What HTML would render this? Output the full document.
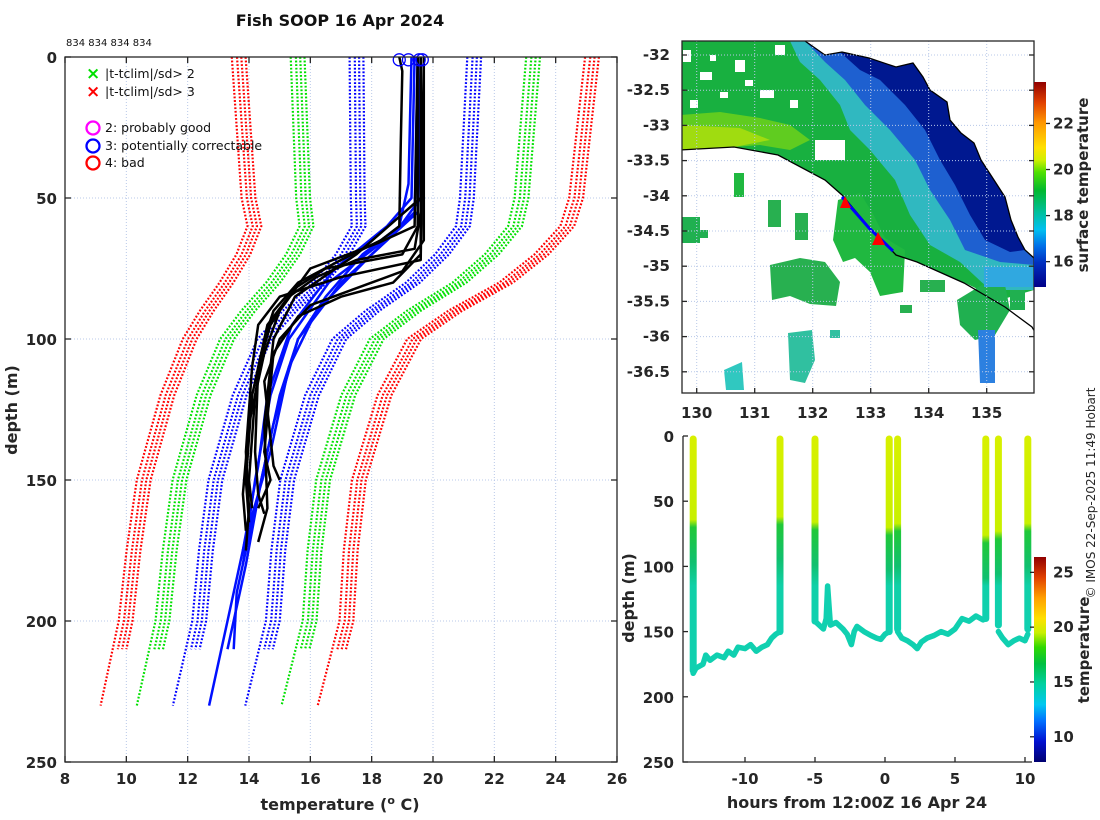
<!DOCTYPE html>
<html><head><meta charset="utf-8">
<style>
html,body{margin:0;padding:0;background:#fff;}
svg{display:block;font-family:"DejaVu Sans","Liberation Sans",sans-serif;}
.tk{font-size:15px;font-weight:bold;fill:#262626;}
.ax{stroke:#262626;stroke-width:1.3;fill:none;}
.gr{stroke:#b8c8e8;stroke-width:1;stroke-dasharray:1 2;}
</style></head>
<body>
<svg id="fig" width="1100" height="820" viewBox="0 0 1100 820" xmlns="http://www.w3.org/2000/svg">
<defs>
<linearGradient id="cbTop" x1="0" y1="1" x2="0" y2="0">
<stop offset="0" stop-color="#000088"/><stop offset="0.12" stop-color="#0030c0"/><stop offset="0.2" stop-color="#0070e8"/>
<stop offset="0.28" stop-color="#00c0f0"/><stop offset="0.36" stop-color="#00c0a0"/><stop offset="0.47" stop-color="#00b830"/>
<stop offset="0.56" stop-color="#50e000"/><stop offset="0.62" stop-color="#d0f000"/><stop offset="0.68" stop-color="#ffe000"/>
<stop offset="0.8" stop-color="#ff9800"/><stop offset="0.9" stop-color="#e04000"/><stop offset="1" stop-color="#900000"/>
</linearGradient>
<linearGradient id="cbBot" x1="0" y1="1" x2="0" y2="0">
<stop offset="0" stop-color="#000070"/><stop offset="0.1" stop-color="#0010d0"/><stop offset="0.2" stop-color="#0070ff"/>
<stop offset="0.28" stop-color="#00c8f0"/><stop offset="0.38" stop-color="#00d0a0"/><stop offset="0.48" stop-color="#00c040"/>
<stop offset="0.56" stop-color="#30d800"/><stop offset="0.63" stop-color="#c8f000"/><stop offset="0.7" stop-color="#ffe000"/>
<stop offset="0.8" stop-color="#ffa000"/><stop offset="0.9" stop-color="#e04000"/><stop offset="1" stop-color="#900000"/>
</linearGradient>
</defs>

<!-- ===== Left profile panel ===== -->
<text x="340" y="26" text-anchor="middle" style="font-size:16px;font-weight:bold;fill:#111">Fish SOOP 16 Apr 2024</text>
<text x="66" y="46" style="font-size:10px;fill:#111">834 834 834 834</text>
<g id="leftGrid"></g>
<g id="clim"></g>
<g id="profiles"></g>
<g id="leftAxes"></g>
<g>
 <text x="86" y="79" style="font-size:17px;font-weight:bold;fill:#00e000">×</text>
 <text x="105" y="78" style="font-size:12.5px;fill:#111">|t-tclim|/sd&gt; 2</text>
 <text x="86" y="97" style="font-size:17px;font-weight:bold;fill:#ff0000">×</text>
 <text x="105" y="96" style="font-size:12.5px;fill:#111">|t-tclim|/sd&gt; 3</text>
 <circle cx="93" cy="128" r="6.5" fill="none" stroke="#ff00ff" stroke-width="2.3"/>
 <text x="105" y="132" style="font-size:12.5px;fill:#111">2: probably good</text>
 <circle cx="93" cy="146" r="6.5" fill="none" stroke="#0000ff" stroke-width="2.3"/>
 <text x="105" y="150" style="font-size:12.5px;fill:#111">3: potentially correctable</text>
 <circle cx="93" cy="163" r="6.5" fill="none" stroke="#ff0000" stroke-width="2.3"/>
 <text x="105" y="167" style="font-size:12.5px;fill:#111">4: bad</text>
</g>
<text x="340" y="810" text-anchor="middle" style="font-size:16px;font-weight:bold;fill:#262626">temperature (<tspan baseline-shift="super" font-size="11">o</tspan> C)</text>
<text transform="translate(17,410) rotate(-90)" text-anchor="middle" style="font-size:16px;font-weight:bold;fill:#262626">depth (m)</text>

<!-- ===== Map panel ===== -->
<g>
 <clipPath id="mapClip"><rect x="682" y="41" width="352" height="352"/></clipPath>
 <g clip-path="url(#mapClip)">
  <polygon points="680,41 805,41 825,55 842,52 869,58 896,67 913,63 923,77 930,90 947,102 950,120 961,133 974,143 981,160 994,180 1005,197 1011,220 1018,237 1025,250 1034,258 1034,290 1000,300 965,283 917,262 896,255 869,227 842,195 825,180 778,155 734,147 680,150" fill="#18b040"/>
  <polygon points="680,115 720,112 760,118 790,125 810,140 790,150 760,145 734,147 680,150" fill="#60cc20"/>
  <polygon points="680,125 740,128 770,140 734,147 680,150" fill="#a0dc10"/>
  <polygon points="790,41 805,41 825,55 842,52 869,58 896,67 913,63 923,77 930,90 947,102 950,120 961,133 974,143 981,160 994,180 1005,197 1011,220 1018,237 1025,250 1034,258 1034,290 990,290 960,262 930,245 910,215 895,180 870,150 850,130 840,105 820,80 800,62" fill="#30b8c0"/>
  <polygon points="805,41 825,55 842,52 869,58 896,67 913,63 923,77 930,90 947,102 950,120 961,133 974,143 981,160 994,180 1005,197 1011,220 1018,237 1025,250 1034,258 1034,265 1000,262 965,250 950,220 930,190 915,160 890,130 865,105 845,80 825,62" fill="#1e60d0"/>
  <polygon points="840,52 869,58 896,67 913,63 923,77 930,90 947,102 950,120 961,133 974,143 981,160 994,180 1005,197 1011,220 1018,237 1025,250 1010,252 985,240 970,215 955,185 940,160 925,130 905,105 880,80 860,70" fill="#001890"/>
  <polygon points="805,41 1034,41 1034,258 1025,250 1018,237 1011,220 1005,197 994,180 981,160 974,143 961,133 950,120 947,102 930,90 923,77 913,63 896,67 869,58 842,52 825,55" fill="#ffffff"/>
  <g fill="#ffffff">
   <rect x="700" y="72" width="12" height="8"/><rect x="735" y="60" width="10" height="12"/><rect x="760" y="90" width="14" height="8"/><rect x="690" y="100" width="8" height="8"/><rect x="775" y="45" width="10" height="10"/><rect x="720" y="92" width="8" height="6"/><rect x="815" y="140" width="30" height="20"/><rect x="683" y="50" width="8" height="12"/>
   <rect x="745" y="80" width="8" height="6"/><rect x="710" y="55" width="6" height="6"/><rect x="790" y="100" width="8" height="8"/>
  </g>
  <g>
   <polygon points="838,200 860,193 872,212 885,238 905,250 903,292 880,296 870,272 855,258 843,262 833,240" fill="#20b840"/>
   <polygon points="770,265 800,258 825,262 840,282 836,306 810,304 790,296 772,300" fill="#28b050"/>
   <polygon points="957,300 985,283 1005,285 1010,310 995,335 975,340 960,325" fill="#20b050"/>
   <polygon points="978,330 995,330 995,383 980,383" fill="#2c80e0"/>
   <polygon points="788,333 812,330 815,360 805,383 790,380" fill="#30c0a0"/>
   <polygon points="724,370 742,362 744,390 726,390" fill="#30c8c0"/>
   <rect x="682" y="217" width="18" height="26" fill="#20b050"/>
   <rect x="768" y="200" width="13" height="27" fill="#28b050"/>
   <rect x="795" y="213" width="13" height="27" fill="#28b050"/>
   <rect x="734" y="173" width="10" height="24" fill="#20b840"/>
   <rect x="984" y="267" width="50" height="20" fill="#30a8e0"/>
   <rect x="1010" y="290" width="15" height="20" fill="#20b050"/>
   <rect x="920" y="280" width="25" height="12" fill="#28b050"/>
   <rect x="900" y="305" width="12" height="8" fill="#28b050"/>
   <rect x="830" y="330" width="10" height="8" fill="#30c0a0"/>
   <rect x="700" y="230" width="8" height="8" fill="#20b050"/>
  </g>
  <path d="M805,41 L825,55 L842,52 L869,58 L896,67 L913,63 L923,77 L930,90 L947,102 L950,120 L961,133 L974,143 L981,160 L994,180 L1005,197 L1011,220 L1018,237 L1025,250 L1034,258" fill="none" stroke="#000" stroke-width="1.3"/>
  <path d="M680,150 L734,147 L778,155 L825,180 L842,195 L869,227 L896,255 L917,262 L964,283 L1005,307 L1032,327 L1038,337" fill="none" stroke="#000" stroke-width="1.3"/>
  <path d="M842,197 L869,228 L893,251" fill="none" stroke="#0000ff" stroke-width="3"/>
  <polygon points="845,196 840,208 851,208" fill="#ff0000"/>
  <polygon points="878,232 872,245 885,245" fill="#ff0000"/>
 </g>
 <g id="mapAxes"></g>
</g>
<rect x="1034" y="82" width="12" height="205" fill="url(#cbTop)"/>
<g id="cbTopTicks"></g>
<text transform="translate(1088,185) rotate(-90)" text-anchor="middle" style="font-size:15px;font-weight:bold;fill:#262626">surface temperature</text>
<text transform="translate(1095,493) rotate(-90)" text-anchor="middle" style="font-size:12px;fill:#262626">© IMOS 22-Sep-2025 11:49 Hobart</text>

<!-- ===== Bottom-right panel ===== -->
<g id="section"></g>
<g id="secAxes"></g>
<rect x="1034" y="557" width="12" height="205" fill="url(#cbBot)"/>
<g id="cbBotTicks"></g>
<text transform="translate(1089,650) rotate(-90)" text-anchor="middle" style="font-size:15px;font-weight:bold;fill:#262626">temperature</text>
<text x="857" y="808" text-anchor="middle" style="font-size:16px;font-weight:bold;fill:#262626">hours from 12:00Z 16 Apr 24</text>
<text transform="translate(634,598) rotate(-90)" text-anchor="middle" style="font-size:16px;font-weight:bold;fill:#262626">depth (m)</text>
</svg>

<script>
// ---- profile panel data ----
const tempTicks = [8,10,12,14,16,18,20,22,24,26];
const depthTicks = [0,50,100,150,200,250];
const climDepth = [0,50,60,70,80,90,100,120,150,175,200,230];
const climMean  = [19.45,19.35,19.3,18.7,17.85,16.7,15.75,14.9,14.1,13.8,13.6,12.95];
const climSd    = [1.92,1.78,1.7,1.62,1.52,1.35,1.22,1.18,1.17,1.18,1.2,1.18];
const climShift = [-0.25,-0.08,0.06,0.2];
const climMaxDepth = [230,210,210,210];
const sdMultipliers = [1,2,3];
const blackDepths = [
 [0,5,30,60,65,72,80,90,100,120,150,160],
 [0,55,68,72,78,85,95,110,140,155,162],
 [0,60,70,75,82,95,120,150,165],
 [0,65,76,80,88,100,115,145,150],
 [0,50,70,85,100,130,160,172],
 [0,72,78,85,95,110,140,160,175],
 [0,60,66,75,90,105,130,155,168],
 [0,70,80,85,92,105,140,150,160]
];
const blackTemps = [
 [18.9,19.0,18.95,18.9,18.3,17.0,15.6,14.8,14.5,14.2,14.0,14.1],
 [19.6,19.6,19.4,17.5,16.2,15.3,14.7,14.3,14.2,14.3,14.5],
 [19.5,19.5,19.0,16.5,15.5,14.6,14.1,13.9,14.0],
 [19.7,19.7,19.0,18.0,16.0,15.0,14.5,14.8,15.0],
 [19.6,19.6,17.5,15.5,14.8,14.5,14.6,14.3],
 [19.7,19.6,17.0,15.0,14.3,14.1,13.9,14.0,13.9],
 [19.5,19.4,18.2,16.0,15.0,14.5,14.0,13.8,13.9],
 [19.6,19.6,18.7,17.0,15.6,14.8,14.5,14.7,14.3]
];
const blueDepths = [
 [0,45,60,70,85,100,120,150,180,210],
 [0,55,70,90,110,140,170,200,230],
 [0,55,65,80,100,130,160,190,210],
 [0,50,62,80,100,120,150,180],
 [0,50,60,75,95,120,145,175]
];
const blueTemps = [
 [19.3,19.2,18.9,17.7,16.5,15.6,15.0,14.4,13.9,13.3],
 [19.6,19.5,18.0,16.2,15.3,14.7,13.9,13.3,12.7],
 [19.5,19.4,18.5,17.0,15.6,14.8,14.2,13.6,13.5],
 [19.6,19.6,18.8,16.6,15.3,14.7,14.2,13.8],
 [19.4,19.3,18.5,16.8,15.4,14.6,14.3,13.8]
];
const flagTemps = [18.9,19.2,19.55,19.65];

// ---- map ticks ----
const lonTicks = [130,131,132,133,134,135];
const latTicks = [-32,-32.5,-33,-33.5,-34,-34.5,-35,-35.5,-36,-36.5];
const sstTicks = [16,18,20,22];

// ---- section data ----
const hourTicks = [-10,-5,0,5,10];
const secDepthTicks = [0,50,100,150,200,250];
const tempCbTicks = [10,15,20,25];
const profTimes = [-13.7,-7.5,-5.0,0.3,0.9,7.2,8.1,10.2];
const profBottom = [180,150,142,150,148,140,145,148];
const profMld = [67,65,69,73,70,79,76,70];
const trackTime = [
 [-13.7,-13.5,-13.0,-12.8,-12.5,-12.0,-11.5,-11.2,-10.8,-10.5,-10.0,-9.6,-9.2,-8.8,-8.4,-8.1,-7.8,-7.5],
 [-5.0,-4.7,-4.4,-4.2,-4.1,-3.9,-3.5,-3.0,-2.7,-2.4,-2.2,-2.0,-1.5,-1.0,-0.6,-0.3,0.0,0.3],
 [0.9,1.2,1.6,2.0,2.3,2.6,3.0,3.5,4.0,4.5,5.0,5.5,6.0,6.5,7.0,7.2],
 [8.1,8.4,8.8,9.2,9.6,10.0,10.2]
];
const trackDepth = [
 [182,178,175,168,172,168,170,165,168,162,163,160,165,162,160,155,152,150],
 [142,145,148,140,115,145,143,148,152,160,150,146,150,153,155,156,152,150],
 [150,155,157,160,163,158,155,153,150,152,148,140,142,138,141,140],
 [150,155,160,157,155,157,152]
];

const NS = "http://www.w3.org/2000/svg";
function mk(tag, attrs, parent){ const e=document.createElementNS(NS,tag); for(const k in attrs) e.setAttribute(k,attrs[k]); parent.appendChild(e); return e; }
function txt(parent,x,y,s,anchor,cls){ const t=mk('text',{x:x,y:y,'text-anchor':anchor,'class':cls||'tk'},parent); t.textContent=s; return t; }

const L={x0:65,x1:617,y0:57,y1:762};
const xT = t => L.x0 + (t-8)*(L.x1-L.x0)/18;
const yD = d => L.y0 + d*(L.y1-L.y0)/250;

const lg=document.getElementById('leftGrid');
tempTicks.forEach(t=>{ if(t>8&&t<26){ const l=mk('line',{x1:xT(t),x2:xT(t),y1:L.y0,y2:L.y1,'class':'gr'},lg);
  }});
depthTicks.forEach(d=>{ if(d>0&&d<250){ const l=mk('line',{x1:L.x0,x2:L.x1,y1:yD(d),y2:yD(d),'class':'gr'},lg);
  }});

function interp(xs,ys,x){ for(let i=0;i<xs.length-1;i++){ if(x>=xs[i]&&x<=xs[i+1]){ const f=(x-xs[i])/(xs[i+1]-xs[i]); return ys[i]+f*(ys[i+1]-ys[i]); } } return ys[ys.length-1]; }

const cg=document.getElementById('clim');
const multColor={1:'#0000ff',2:'#00e000',3:'#ff0000'};
climShift.forEach((sh,vi)=>{
  const maxD=climMaxDepth[vi];
  const ds=climDepth.filter(d=>d<maxD).concat([maxD]);
  sdMultipliers.forEach(m=>{
    [-1,1].forEach(sign=>{
      const pts=ds.map(d=>{ const mu=interp(climDepth,climMean,d)+sh; const sd=interp(climDepth,climSd,d); return xT(mu+sign*m*sd).toFixed(1)+','+yD(d).toFixed(1); });
      const p=mk('polyline',{points:pts.join(' '),fill:'none',stroke:multColor[m],'stroke-width':2.2,'stroke-dasharray':'1.8 1.8'},cg);
      
      
    });
  });
});

const pg=document.getElementById('profiles');
blueDepths.forEach((ds,i)=>{
  const p=mk('polyline',{points:ds.map((d,j)=>xT(blueTemps[i][j]).toFixed(1)+','+yD(d).toFixed(1)).join(' '),fill:'none',stroke:'#0010ff','stroke-width':2.5,'stroke-linejoin':'round'},pg);
  
  
});
blackDepths.forEach((ds,i)=>{
  const p=mk('polyline',{points:ds.map((d,j)=>xT(blackTemps[i][j]).toFixed(1)+','+yD(d).toFixed(1)).join(' '),fill:'none',stroke:'#000','stroke-width':2.5,'stroke-linejoin':'round'},pg);
  
  
});
flagTemps.forEach(t=>{
  const c=mk('circle',{cx:xT(t),cy:yD(1),r:6,fill:'none',stroke:'#0000ff','stroke-width':1.3},pg);
  
  
});

const la=document.getElementById('leftAxes');
mk('rect',{x:L.x0,y:L.y0,width:L.x1-L.x0,height:L.y1-L.y0,'class':'ax'},la);
tempTicks.forEach(t=>{ mk('line',{x1:xT(t),x2:xT(t),y1:L.y1,y2:L.y1-6,'class':'ax'},la); mk('line',{x1:xT(t),x2:xT(t),y1:L.y0,y2:L.y0+6,'class':'ax'},la);
  const tx=txt(la,xT(t),784,String(t),'middle');   });
depthTicks.forEach(d=>{ mk('line',{x1:L.x0,x2:L.x0+6,y1:yD(d),y2:yD(d),'class':'ax'},la); mk('line',{x1:L.x1,x2:L.x1-6,y1:yD(d),y2:yD(d),'class':'ax'},la);
  const tx=txt(la,57,yD(d)+6,String(d),'end');   });

const M={x0:682,x1:1034,y0:41,y1:393};
const xLon = lo => 696.7 + (lo-130)*58;
const yLat = la_ => 55 + (-32-la_)*70.4;
const ma=document.getElementById('mapAxes');
lonTicks.forEach(lo=>{ const g=mk('line',{x1:xLon(lo),x2:xLon(lo),y1:M.y0,y2:M.y1,'class':'gr'},ma);  
  mk('line',{x1:xLon(lo),x2:xLon(lo),y1:M.y1,y2:M.y1-5,'class':'ax'},ma);
  const tx=txt(ma,xLon(lo),418,String(lo),'middle');   });
latTicks.forEach(v=>{ const g=mk('line',{x1:M.x0,x2:M.x1,y1:yLat(v),y2:yLat(v),'class':'gr'},ma);  
  mk('line',{x1:M.x0,x2:M.x0+5,y1:yLat(v),y2:yLat(v),'class':'ax'},ma); mk('line',{x1:M.x1,x2:M.x1-5,y1:yLat(v),y2:yLat(v),'class':'ax'},ma);
  const tx=txt(ma,670,yLat(v)+5,String(v),'end');   });
mk('rect',{x:M.x0,y:M.y0,width:M.x1-M.x0,height:M.y1-M.y0,'class':'ax'},ma);

const ySst = v => 82 + (23.8-v)*205/8.9;
const ct=document.getElementById('cbTopTicks');
sstTicks.forEach(v=>{ mk('line',{x1:1046,x2:1050,y1:ySst(v),y2:ySst(v),'class':'ax'},ct);
  const tx=txt(ct,1053,ySst(v)+5,String(v),'start');   });

const S={x0:683,x1:1032,y0:436,y1:762};
const xH = h => 885 + h*14;
const yS = d => S.y0 + d*(S.y1-S.y0)/250;
const sg=document.getElementById('section');
trackTime.forEach((ts,i)=>{
  const p=mk('polyline',{points:ts.map((t,j)=>xH(t).toFixed(1)+','+yS(trackDepth[i][j]).toFixed(1)).join(' '),fill:'none',stroke:'#10d0b0','stroke-width':5.5,'stroke-linejoin':'round','stroke-linecap':'round'},sg);
  
  
});
const defs=document.querySelector('defs');
profTimes.forEach((t,i)=>{
  const gid='pg'+i;
  const lgd=mk('linearGradient',{id:gid,gradientUnits:'userSpaceOnUse',x1:0,x2:0,y1:yS(0),y2:yS(profBottom[i])},defs);
  const tot=profBottom[i];
  [[0,'#d8f000'],[profMld[i]-3,'#c8f000'],[profMld[i]+3,'#20c838'],[profMld[i]+30,'#10c070'],[Math.min(115,tot-1),'#10d0a8'],[tot,'#10d0b0']].forEach(s=>mk('stop',{offset:(s[0]/tot).toFixed(3),'stop-color':s[1]},lgd));
  const l=mk('line',{x1:xH(t),x2:xH(t),y1:yS(0)+3,y2:yS(profBottom[i]),stroke:'url(#'+gid+')','stroke-width':7,'stroke-linecap':'round'},sg);
  
  
});
const sa=document.getElementById('secAxes');
mk('polyline',{points:`${S.x0},${S.y0} ${S.x0},${S.y1} ${S.x1},${S.y1}`,'class':'ax'},sa);
hourTicks.forEach(h=>{ mk('line',{x1:xH(h),x2:xH(h),y1:S.y1,y2:S.y1-5,'class':'ax'},sa);
  const tx=txt(sa,xH(h),784,String(h),'middle');   });
secDepthTicks.forEach(d=>{ mk('line',{x1:S.x0,x2:S.x0+5,y1:yS(d),y2:yS(d),'class':'ax'},sa);
  const tx=txt(sa,674,yS(d)+6,String(d),'end');   });
const yTc = v => 557 + (26.4-v)*205/18.7;
const cb=document.getElementById('cbBotTicks');
tempCbTicks.forEach(v=>{ mk('line',{x1:1030,x2:1034,y1:yTc(v),y2:yTc(v),'class':'ax'},cb);
  const tx=txt(cb,1053,yTc(v)+5,String(v),'start');   });
</script>
</body></html>
